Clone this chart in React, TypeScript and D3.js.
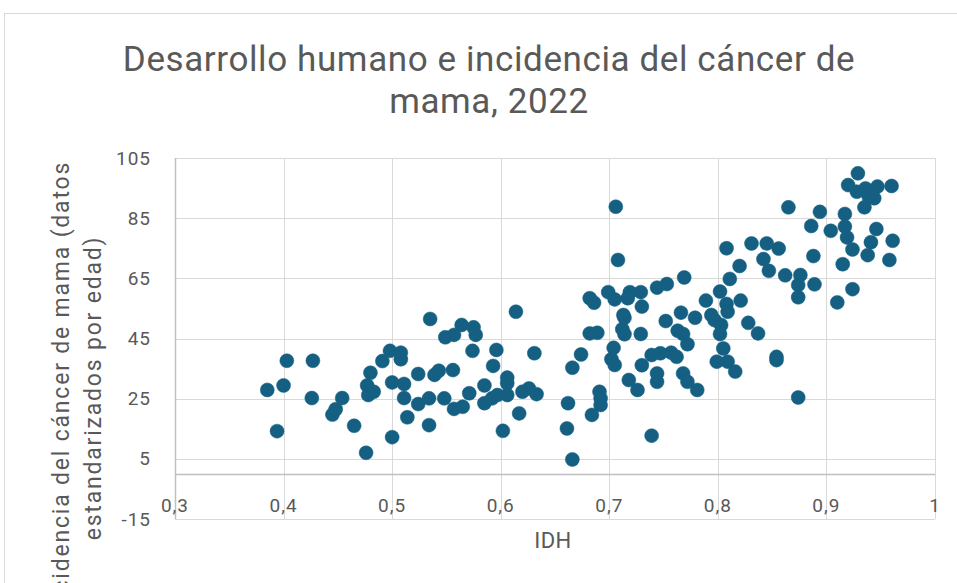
import React, { useRef, useEffect } from "react";
import * as d3 from "d3";

const width = 957;
const height = 583;

// IDH (índice de desarrollo humano) per country
const idh = [
  0.385, 0.4, 0.403, 0.427, 0.394, 0.426, 0.454, 0.448, 0.445, 0.465,
  0.476, 0.5, 0.48, 0.477, 0.483, 0.478, 0.491, 0.498, 0.508, 0.508,
  0.5, 0.511, 0.511, 0.524, 0.524, 0.514, 0.535, 0.549, 0.557, 0.564,
  0.575, 0.577, 0.574, 0.596, 0.593, 0.614, 0.631, 0.666, 0.674, 0.682,
  0.686, 0.682, 0.689, 0.534, 0.534, 0.539, 0.543, 0.556, 0.548, 0.557,
  0.565, 0.571, 0.585, 0.585, 0.592, 0.597, 0.606, 0.606, 0.606, 0.602,
  0.617, 0.62, 0.626, 0.633, 0.662, 0.661, 0.666, 0.684, 0.706, 0.708,
  0.699, 0.705, 0.719, 0.717, 0.729, 0.73, 0.744, 0.753, 0.769, 0.713,
  0.714, 0.712, 0.714, 0.729, 0.704, 0.702, 0.705, 0.73, 0.739, 0.747,
  0.757, 0.762, 0.718, 0.726, 0.744, 0.744, 0.768, 0.772, 0.781, 0.691,
  0.692, 0.692, 0.739, 0.752, 0.766, 0.779, 0.763, 0.768, 0.772, 0.789,
  0.802, 0.808, 0.82, 0.811, 0.831, 0.845, 0.856, 0.842, 0.847, 0.821,
  0.808, 0.809, 0.794, 0.797, 0.803, 0.802, 0.828, 0.837, 0.805, 0.799,
  0.809, 0.816, 0.854, 0.854, 0.929, 0.92, 0.928, 0.936, 0.947, 0.96,
  0.944, 0.935, 0.939, 0.865, 0.894, 0.917, 0.886, 0.904, 0.917, 0.919,
  0.946, 0.941, 0.961, 0.924, 0.938, 0.958, 0.915, 0.888, 0.862, 0.876,
  0.874, 0.874, 0.889, 0.924, 0.91, 0.874,
];

// incidencia del cáncer de mama (tasa estandarizada por edad)
const incidencia = [
  27.9, 29.4, 37.6, 37.6, 14.2, 25.2, 25.2, 21.5, 19.7, 16.0,
  7.0, 12.2, 33.6, 29.4, 27.3, 26.2, 37.5, 40.9, 40.3, 38.1,
  30.4, 29.9, 25.2, 33.2, 23.2, 18.8, 51.5, 45.4, 46.2, 49.5,
  48.7, 46.2, 40.9, 41.2, 35.9, 53.9, 40.1, 35.3, 39.7, 58.4,
  56.9, 46.7, 46.9, 25.1, 16.2, 32.9, 34.3, 34.5, 25.1, 21.6,
  22.3, 26.8, 29.4, 23.5, 25.1, 26.2, 32.0, 30.1, 26.2, 14.3,
  20.1, 27.3, 28.4, 26.5, 23.5, 15.1, 4.8, 19.6, 88.8, 71.1,
  60.4, 58.0, 60.4, 58.4, 60.4, 55.6, 61.9, 63.1, 65.3, 52.8,
  51.9, 48.1, 46.4, 46.5, 41.9, 38.1, 36.2, 36.1, 39.5, 40.1,
  40.3, 38.9, 31.2, 27.9, 33.4, 30.6, 33.4, 30.6, 27.9, 27.3,
  25.1, 22.9, 12.7, 50.8, 53.6, 51.9, 47.6, 46.5, 43.1, 57.6,
  60.6, 75.0, 69.1, 64.8, 76.6, 76.6, 74.9, 71.4, 67.5, 57.6,
  56.5, 53.9, 52.8, 51.1, 49.5, 46.5, 50.2, 46.7, 41.7, 37.3,
  37.3, 34.0, 38.9, 37.8, 99.9, 96.0, 93.8, 94.9, 95.5, 95.7,
  91.6, 88.6, 92.1, 88.6, 87.1, 86.4, 82.4, 80.8, 82.2, 78.6,
  81.4, 77.0, 77.5, 74.6, 72.7, 71.1, 69.7, 72.4, 66.0, 66.1,
  62.8, 58.7, 63.0, 61.4, 57.0, 25.4,
];

const xTicks = [0.3, 0.4, 0.5, 0.6, 0.7, 0.8, 0.9, 1];
const xTickLabels = ["0,3", "0,4", "0,5", "0,6", "0,7", "0,8", "0,9", "1"];
const yTicks = [-15, 5, 25, 45, 65, 85, 105];
const yTickLabels = ["-15", "5", "25", "45", "65", "85", "105"];

const titleLines = ["Desarrollo humano e incidencia del cáncer de", "mama, 2022"];
const yTitleLines = ["Incidencia del cáncer de mama (datos", "estandarizados por edad)"];
const xTitle = "IDH";

const margin = { top: 158, right: 22, bottom: 64, left: 175 };
const textColor = "#595959";
const gridColor = "#d9d9d9";
const font = "Roboto, sans-serif";

const Scatter = () => {
  const ref = useRef(null);

  useEffect(() => {
    if (!ref.current) return;
    const svg = d3.select(ref.current);
    svg.selectAll("*").remove();

    const x = d3
      .scaleLinear()
      .domain([0.3, 1])
      .range([margin.left, width - margin.right]);
    const y = d3
      .scaleLinear()
      .domain([-15, 105])
      .range([height - margin.bottom, margin.top]);

    svg
      .append("rect")
      .attr("width", width)
      .attr("height", height)
      .attr("fill", "white");

    // chart area border
    svg
      .append("rect")
      .attr("x", 4.5)
      .attr("y", 13.5)
      .attr("width", width + 10)
      .attr("height", height + 10)
      .attr("fill", "none")
      .attr("stroke", gridColor);

    // title
    svg
      .append("g")
      .attr("text-anchor", "middle")
      .style("font", `35px ${font}`)
      .style("letter-spacing", "0.6px")
      .attr("fill", textColor)
      .selectAll("text")
      .data(titleLines)
      .join("text")
      .attr("x", 489)
      .attr("y", (d, i) => 71 + i * 42)
      .text((d) => d);

    // gridlines
    const grid = svg.append("g").attr("stroke", gridColor).attr("stroke-width", 1);
    grid
      .selectAll("line.h")
      .data(yTicks)
      .join("line")
      .attr("class", "h")
      .attr("x1", x(0.3))
      .attr("x2", x(1))
      .attr("y1", (d) => Math.round(y(d)) + 0.5)
      .attr("y2", (d) => Math.round(y(d)) + 0.5);
    grid
      .selectAll("line.v")
      .data(xTicks)
      .join("line")
      .attr("class", "v")
      .attr("y1", y(105))
      .attr("y2", y(-15))
      .attr("x1", (d) => Math.round(x(d)) + 0.5)
      .attr("x2", (d) => Math.round(x(d)) + 0.5);

    // axis lines
    svg
      .append("line")
      .attr("x1", x(0.3))
      .attr("x2", x(1))
      .attr("y1", Math.round(y(0)) + 0.5)
      .attr("y2", Math.round(y(0)) + 0.5)
      .attr("stroke", "#bfbfbf")
      .attr("stroke-width", 1.5);
    svg
      .append("line")
      .attr("x1", Math.round(x(0.3)) + 0.5)
      .attr("x2", Math.round(x(0.3)) + 0.5)
      .attr("y1", y(105))
      .attr("y2", y(-15))
      .attr("stroke", "#bfbfbf")
      .attr("stroke-width", 1.5);

    // tick labels
    svg
      .append("g")
      .attr("text-anchor", "end")
      .style("font", `19px ${font}`)
      .style("letter-spacing", "1px")
      .attr("fill", textColor)
      .selectAll("text")
      .data(yTicks)
      .join("text")
      .attr("x", 151)
      .attr("y", (d) => y(d))
      .attr("dy", "0.35em")
      .text((d, i) => yTickLabels[i]);

    svg
      .append("g")
      .attr("text-anchor", "middle")
      .style("font", `19px ${font}`)
      .style("letter-spacing", "1px")
      .attr("fill", textColor)
      .selectAll("text")
      .data(xTicks)
      .join("text")
      .attr("x", (d) => x(d))
      .attr("y", y(0) + 31)
      .attr("dy", "0.35em")
      .text((d, i) => xTickLabels[i]);

    // axis titles
    svg
      .append("text")
      .attr("x", 553)
      .attr("y", 548)
      .attr("text-anchor", "middle")
      .style("font", `22px ${font}`)
      .style("letter-spacing", "0.5px")
      .attr("fill", textColor)
      .text(xTitle);

    svg
      .append("g")
      .attr("transform", "translate(0,388) rotate(-90)")
      .attr("text-anchor", "middle")
      .style("font", `23px ${font}`)
      .style("letter-spacing", "1.8px")
      .attr("fill", textColor)
      .selectAll("text")
      .data(yTitleLines)
      .join("text")
      .attr("x", 0)
      .attr("y", (d, i) => 69 + i * 32)
      .text((d) => d);

    // points
    svg
      .append("g")
      .selectAll("circle")
      .data(idh.map((v, i) => [v, incidencia[i]]))
      .join("circle")
      .attr("cx", (d) => x(d[0]))
      .attr("cy", (d) => y(d[1]))
      .attr("r", 7)
      .attr("fill", "#156082")
      .attr("stroke", "#156082")
      .attr("stroke-width", 0.5);
  }, []);

  return (
    <svg
      ref={ref}
      width={width}
      height={height}
      style={{ position: "absolute", left: 0, top: 0, display: "block" }}
    />
  );
};

export default function App() {
  return <Scatter />;
}
